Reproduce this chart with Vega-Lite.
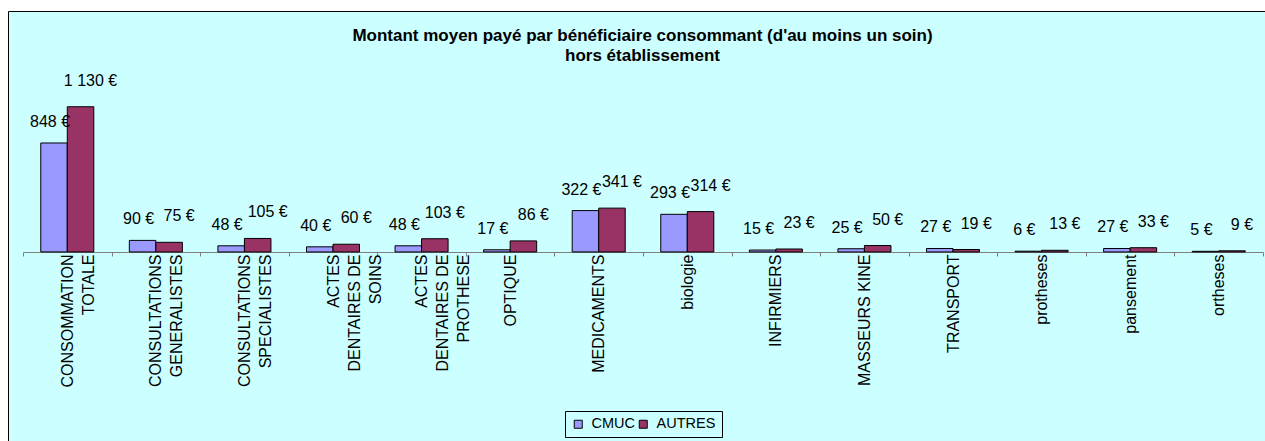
{
  "$schema": "https://vega.github.io/schema/vega-lite/v6.json",
  "width": 1257,
  "height": 430,
  "autosize": {"type": "none"},
  "padding": {"left": 8, "top": 11, "right": 0, "bottom": 0},
  "background": "#ffffff",
  "view": {"fill": "#CCFFFF", "stroke": "#000000", "strokeWidth": 1, "strokeDash": [1257, 2117]},
  "config": {
    "locale": {"number": {"decimal": ",", "thousands": " ", "grouping": [3], "currency": ["", " €"]}}
  },
  "title": {
    "text": ["Montant moyen payé par bénéficiaire consommant (d'au moins un soin)", "hors établissement"],
    "font": "Liberation Sans",
    "fontSize": 17,
    "fontWeight": "bold",
    "color": "#000000",
    "anchor": "middle",
    "offset": -54,
    "lineHeight": 20,
    "dx": 6
  },
  "data": {
    "values": [
      {"categorie": "CONSOMMATION\nTOTALE", "serie": "CMUC", "montant": 848},
      {"categorie": "CONSOMMATION\nTOTALE", "serie": "AUTRES", "montant": 1130},
      {"categorie": "CONSULTATIONS\nGENERALISTES", "serie": "CMUC", "montant": 90},
      {"categorie": "CONSULTATIONS\nGENERALISTES", "serie": "AUTRES", "montant": 75},
      {"categorie": "CONSULTATIONS\nSPECIALISTES", "serie": "CMUC", "montant": 48},
      {"categorie": "CONSULTATIONS\nSPECIALISTES", "serie": "AUTRES", "montant": 105},
      {"categorie": "ACTES\nDENTAIRES DE\nSOINS", "serie": "CMUC", "montant": 40},
      {"categorie": "ACTES\nDENTAIRES DE\nSOINS", "serie": "AUTRES", "montant": 60},
      {"categorie": "ACTES\nDENTAIRES DE\nPROTHESE", "serie": "CMUC", "montant": 48},
      {"categorie": "ACTES\nDENTAIRES DE\nPROTHESE", "serie": "AUTRES", "montant": 103},
      {"categorie": "OPTIQUE", "serie": "CMUC", "montant": 17},
      {"categorie": "OPTIQUE", "serie": "AUTRES", "montant": 86},
      {"categorie": "MEDICAMENTS", "serie": "CMUC", "montant": 322},
      {"categorie": "MEDICAMENTS", "serie": "AUTRES", "montant": 341},
      {"categorie": "biologie", "serie": "CMUC", "montant": 293},
      {"categorie": "biologie", "serie": "AUTRES", "montant": 314},
      {"categorie": "INFIRMIERS", "serie": "CMUC", "montant": 15},
      {"categorie": "INFIRMIERS", "serie": "AUTRES", "montant": 23},
      {"categorie": "MASSEURS KINE", "serie": "CMUC", "montant": 25},
      {"categorie": "MASSEURS KINE", "serie": "AUTRES", "montant": 50},
      {"categorie": "TRANSPORT", "serie": "CMUC", "montant": 27},
      {"categorie": "TRANSPORT", "serie": "AUTRES", "montant": 19},
      {"categorie": "protheses", "serie": "CMUC", "montant": 6},
      {"categorie": "protheses", "serie": "AUTRES", "montant": 13},
      {"categorie": "pansement", "serie": "CMUC", "montant": 27},
      {"categorie": "pansement", "serie": "AUTRES", "montant": 33},
      {"categorie": "ortheses", "serie": "CMUC", "montant": 5},
      {"categorie": "ortheses", "serie": "AUTRES", "montant": 9}
    ]
  },
  "encoding": {
    "x": {
      "field": "categorie",
      "type": "nominal",
      "sort": null,
      "scale": {"range": [15, 1255], "paddingInner": 0, "paddingOuter": 0},
      "axis": {
        "title": null,
        "orient": "bottom",
        "offset": -189,
        "labelAngle": -90,
        "labelAlign": "right",
        "labelBaseline": "middle",
        "labelPadding": -2,
        "labelFont": "Liberation Sans",
        "labelFontSize": 16,
        "labelColor": "#000000",
        "labelLineHeight": 21,
        "labelLimit": 0,
        "labelOverlap": false,
        "labelBound": false,
        "labelFlush": false,
        "labelExpr": "split(datum.label, '\\n')",
        "tickBand": "extent",
        "tickSize": 4,
        "tickColor": "#808080",
        "domainColor": "#808080",
        "grid": false
      }
    },
    "xOffset": {
      "field": "serie",
      "type": "nominal",
      "sort": ["CMUC", "AUTRES"],
      "scale": {"paddingInner": 0, "paddingOuter": 0.67}
    },
    "y": {
      "field": "montant",
      "type": "quantitative",
      "scale": {"domain": [-1471, 1875], "nice": false},
      "axis": {
        "orient": "left",
        "title": null,
        "domain": true,
        "domainColor": "#000000",
        "domainWidth": 1,
        "ticks": false,
        "labels": false,
        "grid": false
      }
    }
  },
  "layer": [
    {
      "mark": {"type": "bar", "stroke": "#000000", "strokeWidth": 1},
      "encoding": {
        "color": {
          "field": "serie",
          "type": "nominal",
          "scale": {"domain": ["CMUC", "AUTRES"], "range": ["#9999FF", "#993366"]},
          "legend": {
            "title": null,
            "orient": "none",
            "legendX": 557,
            "legendY": 400,
            "direction": "horizontal",
            "symbolType": "square",
            "symbolSize": 64,
            "symbolStrokeColor": "#000000",
            "symbolStrokeWidth": 1,
            "symbolOpacity": 1,
            "labelFont": "Liberation Sans",
            "labelFontSize": 14.5,
            "labelColor": "#000000",
            "strokeColor": "#000000",
            "fillColor": "#CCFFFF",
            "padding": 6,
            "columnPadding": 1,
            "gridAlign": "none",
            "labelOffset": 6
          }
        }
      }
    },
    {
      "transform": [{"filter": "datum.serie === 'CMUC'"}],
      "mark": {"type": "text", "dx": -4, "dy": -21, "baseline": "middle", "align": "center", "font": "Liberation Sans", "fontSize": 16, "color": "#000000"},
      "encoding": {
        "text": {"field": "montant", "type": "quantitative", "format": "$,d"}
      }
    },
    {
      "transform": [{"filter": "datum.serie === 'AUTRES'"}],
      "mark": {"type": "text", "dx": 10, "dy": -26, "baseline": "middle", "align": "center", "font": "Liberation Sans", "fontSize": 16, "color": "#000000"},
      "encoding": {
        "text": {"field": "montant", "type": "quantitative", "format": "$,d"}
      }
    }
  ]
}
